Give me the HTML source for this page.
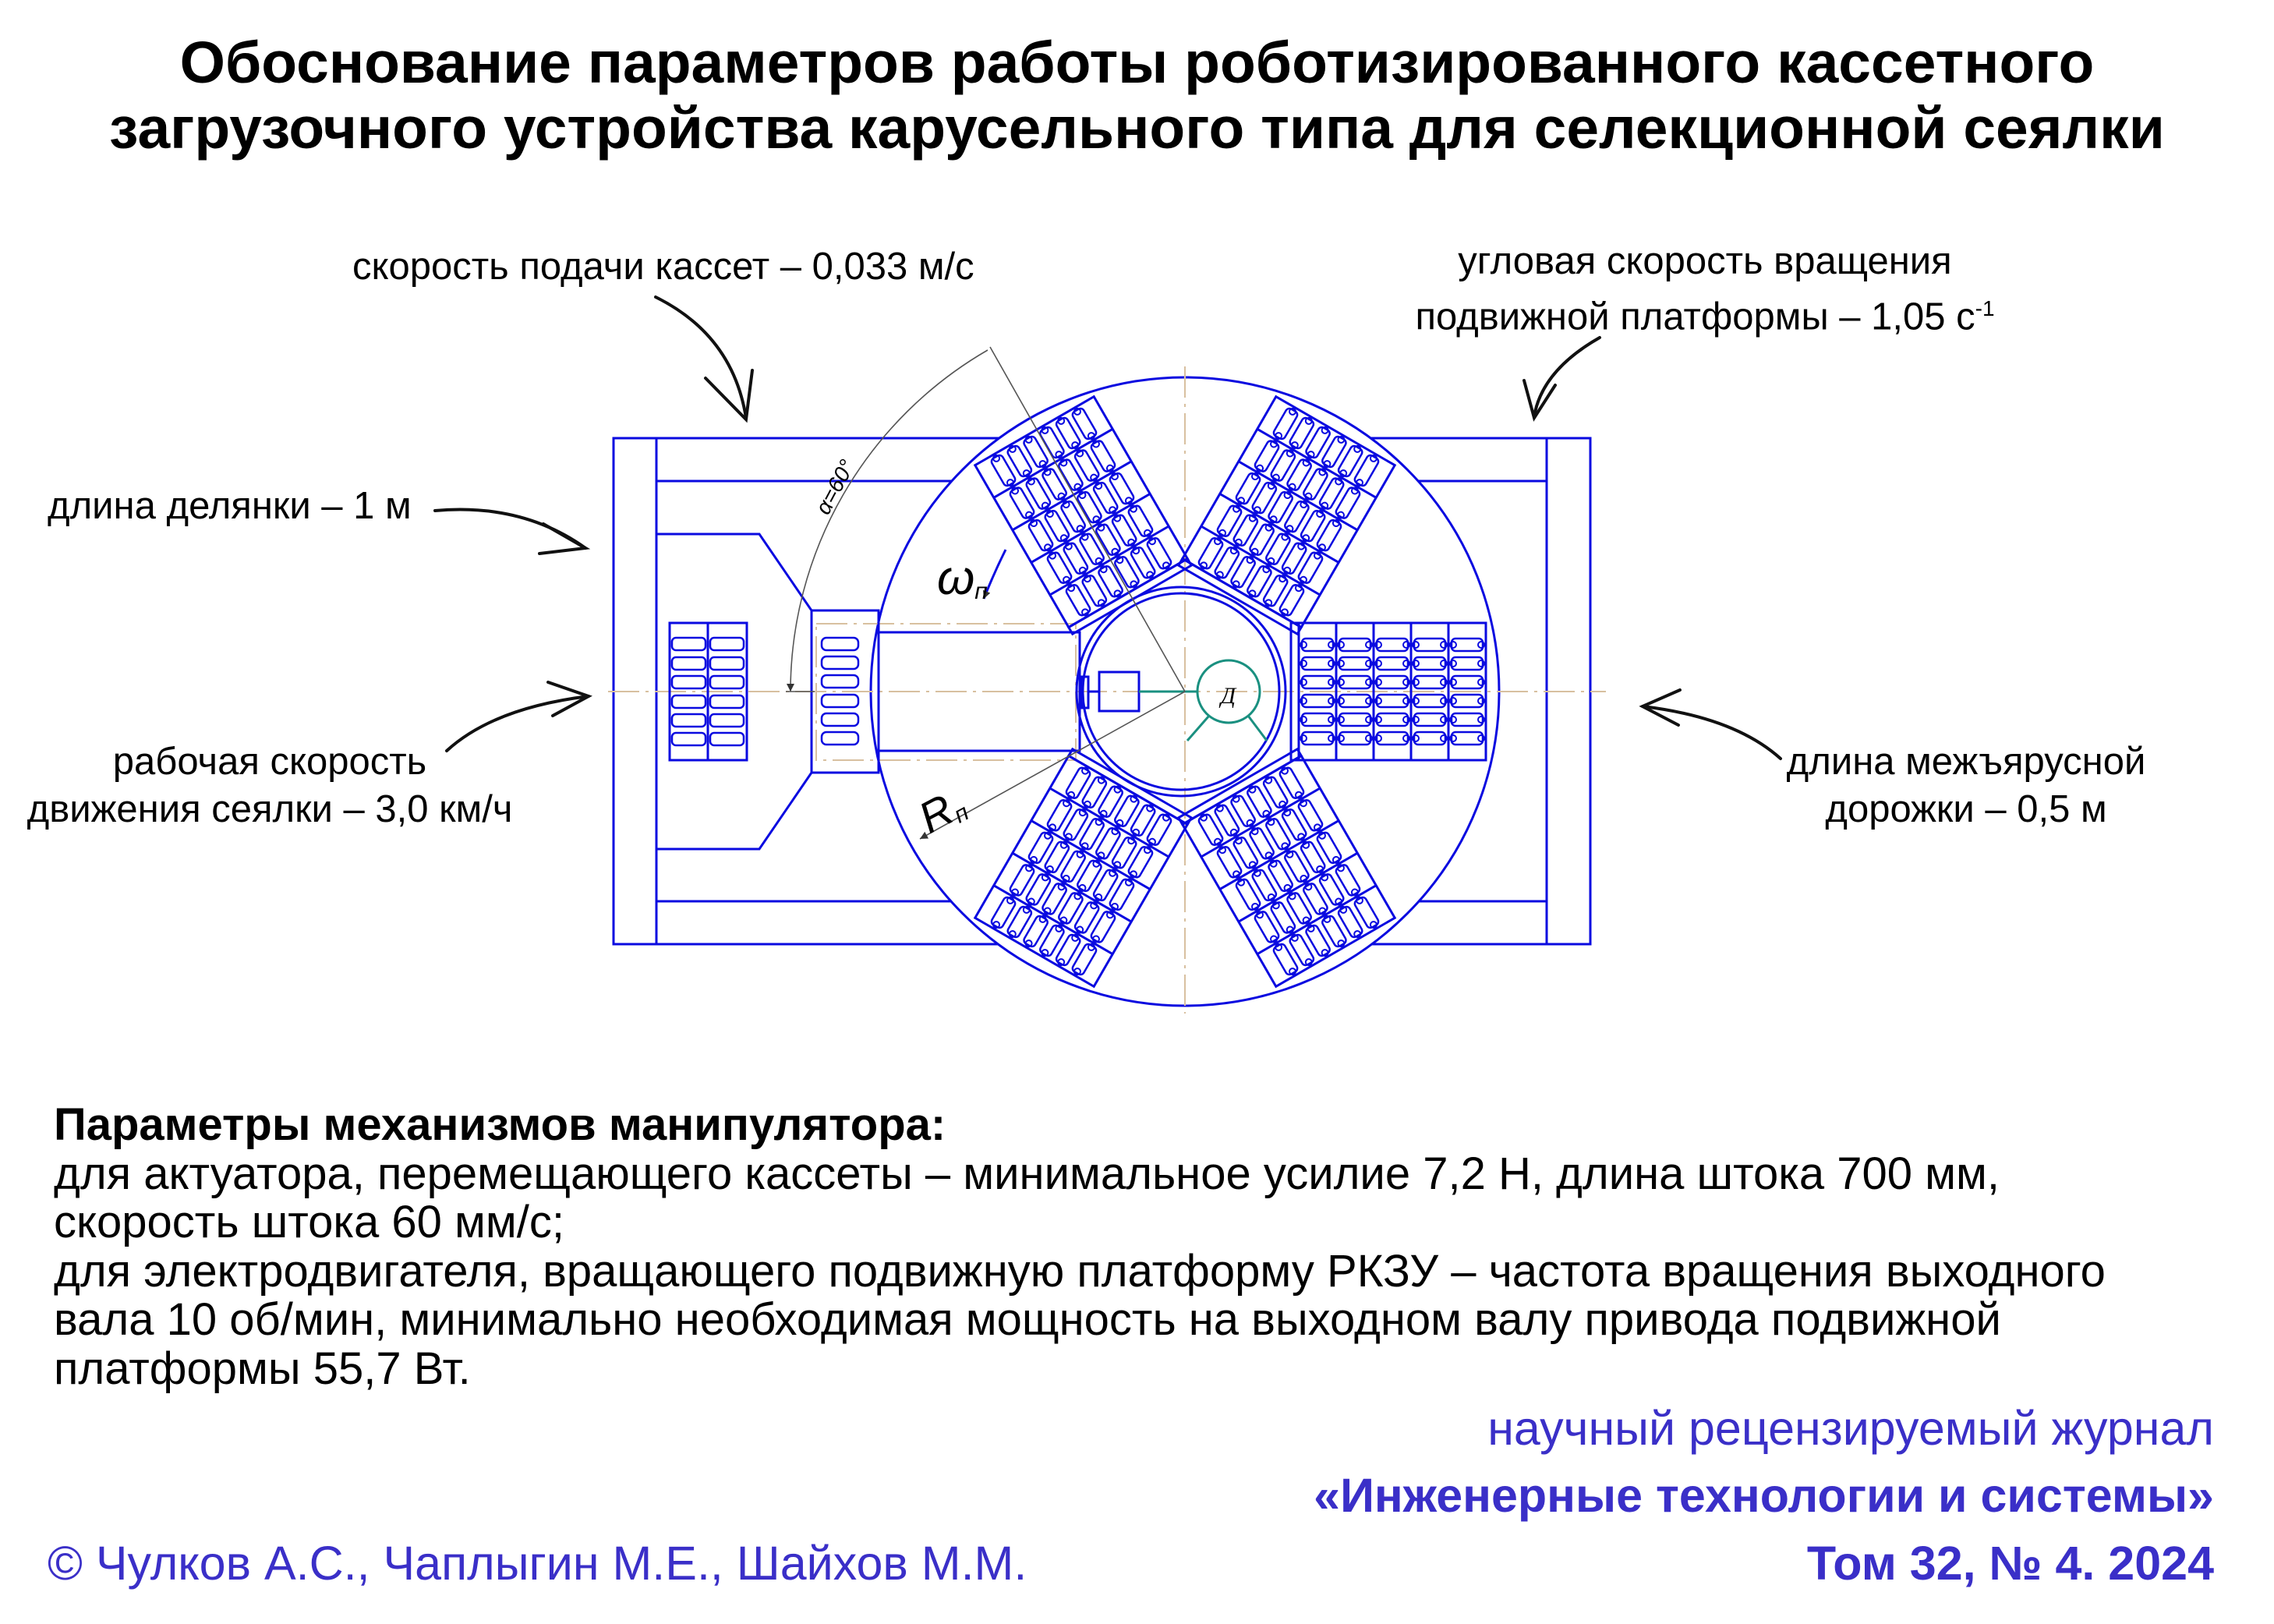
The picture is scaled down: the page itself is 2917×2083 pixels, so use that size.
<!DOCTYPE html>
<html><head><meta charset="utf-8"><style>
html,body{margin:0;padding:0;background:#fff}
body{width:2917px;height:2083px;position:relative;overflow:hidden;font-family:"Liberation Sans",sans-serif;color:#000}
.t{position:absolute;white-space:nowrap}
.title{left:0;width:2917px;text-align:center;font-weight:bold;font-size:75px;line-height:84px}
.lab{font-size:49px;line-height:56px}
.par{left:69px;font-size:58px;line-height:62.5px}
.j{color:#3a2fc8;right:77px;font-size:61px;line-height:70px}
</style></head><body>
<div class="t title" style="top:38px">Обоснование параметров работы роботизированного кассетного<br>загрузочного устройства карусельного типа для селекционной сеялки</div>

<svg style="position:absolute;left:0;top:0" width="2917" height="2083" viewBox="0 0 2917 2083">
<defs>
<g id="cell">
 <rect x="3" y="-8" width="40" height="16" rx="5" fill="none" stroke="#0a0ae0" stroke-width="2.5"/>
 <circle cx="5" cy="0" r="4" fill="none" stroke="#0a0ae0" stroke-width="2"/>
 <circle cx="41" cy="0" r="4" fill="none" stroke="#0a0ae0" stroke-width="2"/>
</g>
<g id="col">
 <use href="#cell" y="-60"/><use href="#cell" y="-36"/><use href="#cell" y="-12"/>
 <use href="#cell" y="12"/><use href="#cell" y="36"/><use href="#cell" y="60"/>
</g>
<g id="blk" fill="none" stroke="#0a0ae0" stroke-width="3">
 <rect x="136" y="-88" width="10" height="176"/>
 <rect x="146" y="-88" width="240" height="176"/>
 <line x1="194" y1="-88" x2="194" y2="88"/>
 <line x1="242" y1="-88" x2="242" y2="88"/>
 <line x1="290" y1="-88" x2="290" y2="88"/>
 <line x1="338" y1="-88" x2="338" y2="88"/>
 <use href="#col" x="147"/><use href="#col" x="195"/><use href="#col" x="243"/><use href="#col" x="291"/><use href="#col" x="339"/>
</g>
<marker id="ah" markerWidth="12" markerHeight="12" refX="10" refY="5" orient="auto" markerUnits="userSpaceOnUse"><path d="M0,0 L10,5 L0,10 z" fill="#333"/></marker>
</defs>

<!-- frame -->
<g fill="none" stroke="#0a0ae0" stroke-width="3">
 <rect x="787" y="562" width="1253" height="649"/>
 <line x1="842" y1="562" x2="842" y2="1211"/>
 <line x1="1984" y1="562" x2="1984" y2="1211"/>
 <line x1="842" y1="617" x2="1250" y2="617"/>
 <line x1="1800" y1="617" x2="1984" y2="617"/>
 <line x1="842" y1="1156" x2="1250" y2="1156"/>
 <line x1="1800" y1="1156" x2="1984" y2="1156"/>
</g>
<circle cx="1520" cy="887" r="403" fill="#fff" stroke="#0a0ae0" stroke-width="3"/>

<!-- centerlines -->
<g stroke="#d8c0a0" stroke-width="2" stroke-dasharray="40,8,4,8" fill="none">
 <line x1="780" y1="887" x2="2060" y2="887"/>
 <line x1="1520" y1="470" x2="1520" y2="1300"/>
 <rect x="1047" y="800" width="333" height="175"/>
</g>

<g fill="none" stroke="#0a0ae0" stroke-width="3">
 <path d="M842,685 L974,685 L1041,783 L1041,991 L974,1089 L842,1089"/>
 <rect x="1041" y="783" width="86" height="208"/>
 <rect x="1127" y="811" width="258" height="152"/>
 <rect x="859" y="799" width="99" height="176"/>
 <line x1="908" y1="799" x2="908" y2="975"/>
 <g stroke-width="2.5">
 <rect x="862" y="818" width="43" height="16" rx="5"/><rect x="911" y="818" width="43" height="16" rx="5"/>
 <rect x="862" y="843" width="43" height="16" rx="5"/><rect x="911" y="843" width="43" height="16" rx="5"/>
 <rect x="862" y="867" width="43" height="16" rx="5"/><rect x="911" y="867" width="43" height="16" rx="5"/>
 <rect x="862" y="892" width="43" height="16" rx="5"/><rect x="911" y="892" width="43" height="16" rx="5"/>
 <rect x="862" y="916" width="43" height="16" rx="5"/><rect x="911" y="916" width="43" height="16" rx="5"/>
 <rect x="862" y="940" width="43" height="16" rx="5"/><rect x="911" y="940" width="43" height="16" rx="5"/>
 <rect x="1054" y="818" width="47" height="16" rx="6"/><rect x="1054" y="842" width="47" height="16" rx="6"/>
 <rect x="1054" y="866" width="47" height="16" rx="6"/><rect x="1054" y="891" width="47" height="16" rx="6"/>
 <rect x="1054" y="915" width="47" height="16" rx="6"/><rect x="1054" y="939" width="47" height="16" rx="6"/>
 </g>
 <circle cx="1515" cy="887" r="134"/>
 <circle cx="1515" cy="887" r="126"/>
 <rect x="1410" y="862" width="51" height="50"/>
 <rect x="1388" y="868" width="8" height="40"/>
 <line x1="1396" y1="887" x2="1410" y2="887"/>
</g>
<g fill="none" stroke="#1a9080" stroke-width="3">
 <circle cx="1576" cy="887" r="40"/>
 <line x1="1461" y1="887" x2="1536" y2="887"/>
 <line x1="1551" y1="918" x2="1523" y2="950"/>
 <line x1="1601" y1="918" x2="1625" y2="950"/>
</g>
<text x="1566" y="902" font-family="Liberation Serif,serif" font-style="italic" font-size="30">Д</text>

<g transform="translate(1520,887)">
 <use href="#blk"/>
 <use href="#blk" transform="rotate(-60)"/>
 <use href="#blk" transform="rotate(-120)"/>
 <use href="#blk" transform="rotate(120)"/>
 <use href="#blk" transform="rotate(60)"/>
</g>

<!-- dimensions -->
<g fill="none" stroke="#555" stroke-width="1.6">
 <line x1="1520" y1="887" x2="1270" y2="445"/>
 <path d="M1267,449 A506,506 0 0 0 1014,887" marker-end="url(#ah)"/>
 <line x1="1008" y1="887" x2="1045" y2="887"/>
 <line x1="1520" y1="887" x2="1180" y2="1076" marker-end="url(#ah)"/>
 <path d="M1290,705 Q1275,735 1262,768" stroke="#0a0ae0" stroke-width="3" marker-end="url(#ah)"/>
</g>
<text x="0" y="0" transform="translate(1062,662) rotate(-62)" font-family="Liberation Sans,sans-serif" font-style="italic" font-size="28">α=60°</text>
<text x="1202" y="762" font-family="Liberation Sans,sans-serif" font-style="italic" font-size="62">ω<tspan font-size="30" dy="6">п</tspan></text>
<text x="0" y="0" transform="translate(1192,1070) rotate(-28)" font-family="Liberation Sans,sans-serif" font-style="italic" font-size="56">R<tspan font-size="30" dy="6">п</tspan></text>

<!-- black arrows -->
<g fill="none" stroke="#111" stroke-width="4" stroke-linecap="round">
 <path d="M841,381 Q940,430 957,536"/>
 <path d="M905,485 L957,538 L965,475"/>
 <path d="M2052,433 Q1978,475 1968,534"/>
 <path d="M1955,488 L1968,536 L1995,494"/>
 <path d="M558,655 Q670,645 751,703"/>
 <path d="M697,672 L751,703 L692,710"/>
 <path d="M573,963 Q633,908 755,893"/>
 <path d="M703,875 L755,893 L709,918"/>
 <path d="M2284,973 Q2225,920 2107,906"/>
 <path d="M2155,885 L2107,906 L2153,930"/>
</g>
</svg>

<div class="t lab" style="left:452px;top:314px">скорость подачи кассет – 0,033 м/с</div>
<div class="t lab" style="left:1787px;top:307px;width:800px;text-align:center">угловая скорость вращения</div>
<div class="t lab" style="left:1787px;top:368px;width:800px;text-align:center">подвижной платформы – 1,05 с<sup style="font-size:28px">-1</sup></div>
<div class="t lab" style="left:61px;top:621px">длина делянки – 1 м</div>
<div class="t lab" style="left:0px;top:947px;width:692px;text-align:center;line-height:61px">рабочая скорость<br>движения сеялки – 3,0 км/ч</div>
<div class="t lab" style="left:2272px;top:947px;width:500px;text-align:center;line-height:61px">длина межъярусной<br>дорожки – 0,5 м</div>

<div class="t par" style="top:1412px"><b>Параметры механизмов манипулятора:</b><br>для актуатора, перемещающего кассеты – минимальное усилие 7,2 Н, длина штока 700 мм,<br>скорость штока 60 мм/с;<br>для электродвигателя, вращающего подвижную платформу РКЗУ – частота вращения выходного<br>вала 10 об/мин, минимально необходимая мощность на выходном валу привода подвижной<br>платформы 55,7 Вт.</div>

<div class="t j" style="top:1797px">научный рецензируемый журнал</div>
<div class="t j" style="top:1883px;font-weight:bold">«Инженерные технологии и системы»</div>
<div class="t j" style="top:1970px;font-weight:bold">Том 32, № 4. 2024</div>
<div class="t" style="left:61px;top:1970px;color:#3a2fc8;font-size:61px;line-height:70px">© Чулков А.С., Чаплыгин М.Е., Шайхов М.М.</div>
</body></html>
